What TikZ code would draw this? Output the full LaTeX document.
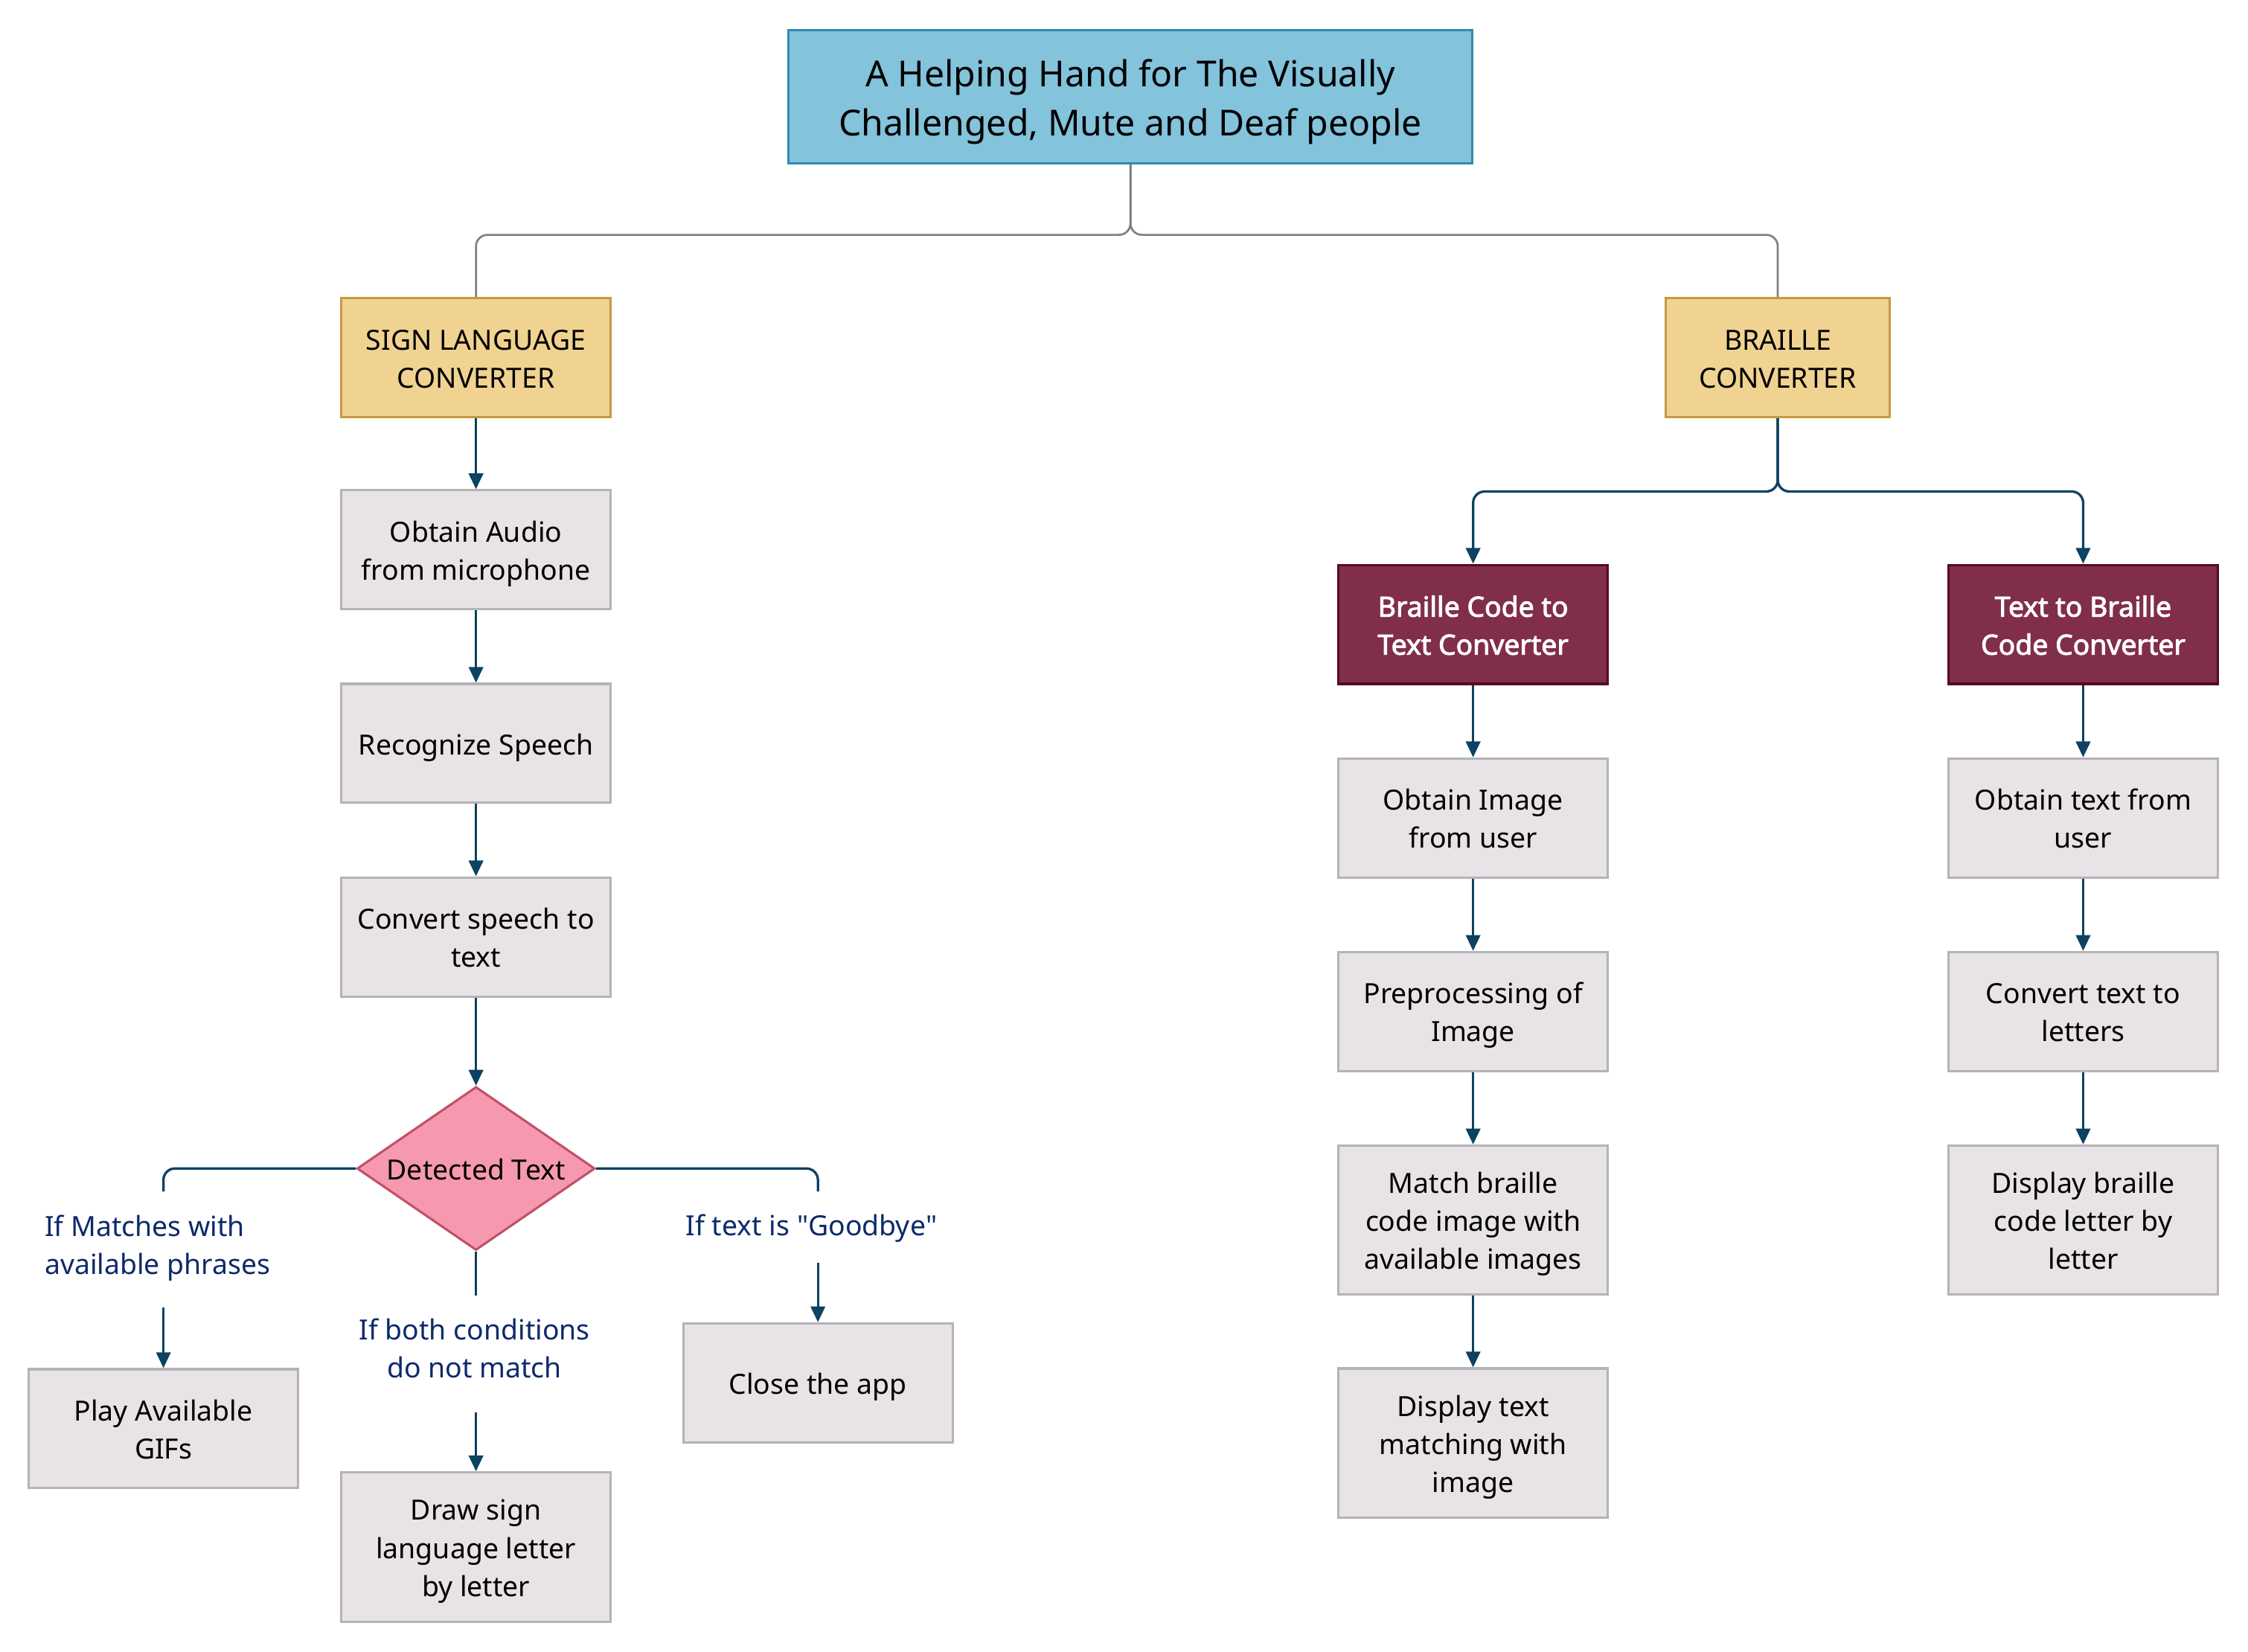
\documentclass[tikz,border=0pt]{standalone}
\usepackage{fontspec}
\setmainfont{Noto Sans}
\newfontfamily\semib{Noto Sans}[FakeBold=2.5]
\usetikzlibrary{arrows.meta,shapes.geometric}
\definecolor{titlefill}{HTML}{83C3DC}
\definecolor{titleline}{HTML}{2E8BB0}
\definecolor{yfill}{HTML}{F0D391}
\definecolor{yline}{HTML}{C49A3C}
\definecolor{gfill}{HTML}{E7E3E7}
\definecolor{gline}{HTML}{B5B3B5}
\definecolor{mfill}{HTML}{812E4A}
\definecolor{mline}{HTML}{560A22}
\definecolor{dfill}{HTML}{F799AE}
\definecolor{dline}{HTML}{C0506A}
\definecolor{navy}{HTML}{0C4262}
\definecolor{lblcol}{HTML}{0D2A6B}
\definecolor{gconn}{HTML}{7F7F7F}
\newcommand{\Tst}{\rule{0pt}{20.5pt}}
\newcommand{\TTst}{\rule{0pt}{26pt}}
\begin{document}
\begin{tikzpicture}[x=1pt,y=-1pt,
  txt/.style={font=\fontsize{19.4}{26.5}\selectfont,
    execute at end node={\rule[-4.8pt]{0pt}{4.8pt}}},
  box/.style={txt,draw=gline,fill=gfill,line width=1.6pt,minimum width=188pt,minimum height=83pt,inner sep=0pt,align=center},
  tallbox/.style={box,minimum height=104pt},
  ybox/.style={box,draw=yline,fill=yfill},
  mbox/.style={box,draw=mline,fill=mfill,text=white,font=\fontsize{19.4}{26.5}\semib},
  titlebox/.style={draw=titleline,fill=titlefill,line width=1.6pt,minimum width=477pt,minimum height=93pt,inner sep=0pt,align=center,font=\fontsize{25}{34}\selectfont,
    execute at end node={\rule[-6pt]{0pt}{6pt}}},
  decision/.style={txt,diamond,shape aspect=1.456,draw=dline,fill=dfill,line width=1.6pt,minimum width=166pt,minimum height=114pt,inner sep=0pt},
  lbl/.style={txt,text=lblcol,inner sep=0pt},
  gline conn/.style={draw=gconn,line width=1.4pt,rounded corners=8pt},
  nline/.style={draw=navy,line width=1.7pt,rounded corners=8pt},
  narrow/.style={nline,-{Triangle[length=11pt,width=10pt]}}
]
\useasboundingbox (0,0) rectangle (1568,1152);

% Title and categories
\node[titlebox] (title) at (788.5,67.5) {\TTst A Helping Hand for The Visually\\Challenged, Mute and Deaf people};
\node[ybox] (sign) at (332,249.5) {\Tst SIGN LANGUAGE\\CONVERTER};
\node[ybox,minimum width=156pt] (braille) at (1240,249.5) {\Tst BRAILLE\\CONVERTER};

% Sign language column
\node[box] (audio) at (332,383.5) {\Tst Obtain Audio\\from microphone};
\node[box] (recog) at (332,518.5) {\Tst Recognize Speech};
\node[box] (s2t) at (332,653.5) {\Tst Convert speech to\\text};
\node[decision] (dec) at (332,815) {\Tst Detected Text};
\node[box] (gifs) at (114,996.5) {\Tst Play Available\\GIFs};
\node[tallbox] (draws) at (332,1079) {\Tst Draw sign\\language letter\\by letter};
\node[box] (close) at (570.5,964.5) {\Tst Close the app};

\node[lbl,anchor=west,align=left] (lL) at (31,867.5) {\Tst If Matches with\\available phrases};
\node[lbl,align=center] (lM) at (331,940) {\Tst If both conditions\\do not match};
\node[lbl] (lR) at (566,854) {\Tst If text is \textquotedbl Goodbye\textquotedbl};

\coordinate (cL1) at (114,831);
\coordinate (cL2) at (114,912);
\coordinate (cM1) at (332,903.5);
\coordinate (cM2) at (332,985);
\coordinate (cR1) at (570.5,831);
\coordinate (cR2) at (570.5,881);

% Braille columns
\node[mbox] (b2t) at (1027.5,435.5) {\Tst Braille Code to\\Text Converter};
\node[mbox] (t2b) at (1453,435.5) {\Tst Text to Braille\\Code Converter};
\node[box] (img) at (1027.5,570.5) {\Tst Obtain Image\\from user};
\node[box] (prep) at (1027.5,705.5) {\Tst Preprocessing of\\Image};
\node[tallbox] (match) at (1027.5,851) {\Tst Match braille\\code image with\\available images};
\node[tallbox] (disp) at (1027.5,1006.5) {\Tst Display text\\matching with\\image};
\node[box] (otext) at (1453,570.5) {\Tst Obtain text from\\user};
\node[box] (letters) at (1453,705.5) {\Tst Convert text to\\letters};
\node[tallbox] (dispb) at (1453,851) {\Tst Display braille\\code letter by\\letter};

% Top connectors
\draw[gline conn] (title.south) -- ++(0,49) -| (sign.north);
\draw[gline conn] (title.south) -- ++(0,49) -| (braille.north);

% Sign language flow
\draw[narrow] (sign.south) -- (audio.north);
\draw[narrow] (audio.south) -- (recog.north);
\draw[narrow] (recog.south) -- (s2t.north);
\draw[narrow] (s2t.south) -- (dec.north);
\draw[nline] (dec.west) -| (cL1);
\draw[narrow] (cL2) -- (gifs.north);
\draw[nline] (dec.south) -- (cM1);
\draw[narrow] (cM2) -- (draws.north);
\draw[nline] (dec.east) -| (cR1);
\draw[narrow] (cR2) -- (close.north);

% Braille flow
\draw[narrow] (braille.south) -- ++(0,51) -| (b2t.north);
\draw[narrow] (braille.south) -- ++(0,51) -| (t2b.north);
\draw[narrow] (b2t.south) -- (img.north);
\draw[narrow] (img.south) -- (prep.north);
\draw[narrow] (prep.south) -- (match.north);
\draw[narrow] (match.south) -- (disp.north);
\draw[narrow] (t2b.south) -- (otext.north);
\draw[narrow] (otext.south) -- (letters.north);
\draw[narrow] (letters.south) -- (dispb.north);
\end{tikzpicture}
\end{document}
